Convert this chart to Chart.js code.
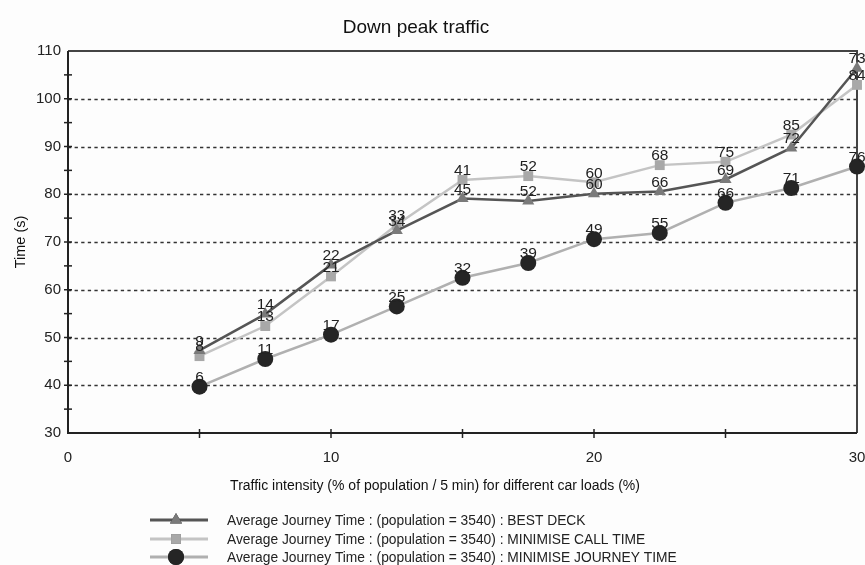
<!DOCTYPE html>
<html>
<head>
<meta charset="utf-8">
<script src="https://cdn.jsdelivr.net/npm/chart.js@4.4.0/dist/chart.umd.min.js"></script>
<style>
html,body{margin:0;padding:0;background:#fdfdfd;}
#wrap{width:865px;height:565px;position:relative;}
</style>
</head>
<body>
<div id="wrap"><canvas id="c" width="865" height="565"></canvas></div>
<script>
// ---- data ----
const xValues = [5, 7.5, 10, 12.5, 15, 17.5, 20, 22.5, 25, 27.5, 30];
const bestDeck = [47.3, 54.9, 65.2, 72.4, 79.1, 78.6, 80.1, 80.6, 83.1, 89.7, 106.4];
const minCallTime = [46.1, 52.4, 62.8, 73.6, 83.0, 83.8, 82.5, 86.1, 86.8, 92.5, 102.9];
const minJourneyTime = [39.7, 45.5, 50.6, 56.5, 62.5, 65.6, 70.6, 71.9, 78.2, 81.3, 85.8];
const bestDeckLabels = ['9','14','22','34','45','52','60','66','69','72','73'];
const callTimeLabels = ['8','13','21','33','41','52','60','68','75','85','84'];
const journeyLabels = ['6','11','17','25','32','39','49','55','66','71','76'];
const seriesNames = [
  'Average Journey Time : (population = 3540) : BEST DECK',
  'Average Journey Time : (population = 3540) : MINIMISE CALL TIME',
  'Average Journey Time : (population = 3540) : MINIMISE JOURNEY TIME'
];
const chartTitle = 'Down peak traffic';
const xTitle = 'Traffic intensity (% of population / 5 min) for different car loads (%)';
const yTitle = 'Time (s)';

const FONT = "'Liberation Sans', Arial, Helvetica, sans-serif";
const toPts = arr => arr.map((v, i) => ({x: xValues[i], y: v}));
const allLabels = [bestDeckLabels, callTimeLabels, journeyLabels];

const decorPlugin = {
  id: 'decor',
  beforeDatasetsDraw(chart) {
    const {ctx, chartArea: a, scales: {x, y}} = chart;
    ctx.save();
    // title and x-axis title
    ctx.fillStyle = '#111';
    ctx.textAlign = 'center';
    ctx.textBaseline = 'middle';
    ctx.font = '19px ' + FONT;
    ctx.fillText(chartTitle, 416, 28);
    ctx.font = '14px ' + FONT;
    ctx.fillText(xTitle, 435, 486);
    // dotted grid lines
    ctx.strokeStyle = '#333';
    ctx.lineWidth = 1.5;
    ctx.setLineDash([3.3, 3.3]);
    for (let v = 40; v <= 100; v += 10) {
      const py = Math.round(y.getPixelForValue(v)) + 0.5;
      ctx.beginPath(); ctx.moveTo(a.left, py); ctx.lineTo(a.right, py); ctx.stroke();
    }
    ctx.setLineDash([]);
    // top and right border
    ctx.strokeStyle = '#444';
    ctx.lineWidth = 2;
    ctx.beginPath();
    ctx.moveTo(a.left, a.top); ctx.lineTo(a.right, a.top); ctx.lineTo(a.right, a.bottom);
    ctx.stroke();
    // axes
    ctx.strokeStyle = '#222';
    ctx.lineWidth = 2;
    ctx.beginPath();
    ctx.moveTo(a.left, a.top); ctx.lineTo(a.left, a.bottom); ctx.lineTo(a.right, a.bottom);
    ctx.stroke();
    // tick marks crossing axes
    ctx.lineWidth = 1.5;
    for (let v = 35; v <= 105; v += 5) {
      const py = y.getPixelForValue(v);
      ctx.beginPath(); ctx.moveTo(a.left - 4, py); ctx.lineTo(a.left + 4, py); ctx.stroke();
    }
    for (let v = 5; v <= 25; v += 5) {
      const px = x.getPixelForValue(v);
      ctx.beginPath(); ctx.moveTo(px, a.bottom - 4); ctx.lineTo(px, a.bottom + 5); ctx.stroke();
    }
    ctx.restore();
  },
  afterDatasetsDraw(chart) {
    const {ctx} = chart;
    ctx.save();
    ctx.font = '15.5px ' + FONT;
    ctx.fillStyle = '#222';
    ctx.textAlign = 'center';
    ctx.textBaseline = 'middle';
    chart.data.datasets.forEach((ds, di) => {
      const meta = chart.getDatasetMeta(di);
      meta.data.forEach((pt, i) => {
        ctx.fillText(allLabels[di][i], pt.x, pt.y - 9);
      });
    });
    // legend
    const rows = [520, 539, 557];
    chart.data.datasets.forEach((ds, di) => {
      const ry = rows[di];
      ctx.strokeStyle = ds.borderColor;
      ctx.lineWidth = 3;
      ctx.beginPath(); ctx.moveTo(150, ry); ctx.lineTo(208, ry); ctx.stroke();
      Chart.helpers.drawPoint(ctx, {
        pointStyle: ds.pointStyle, radius: ds.pointRadius, borderWidth: 0
      }, 176, ry);
      ctx.fillStyle = ds.pointBackgroundColor;
      ctx.fill();
      ctx.fillStyle = '#222';
      ctx.textAlign = 'left';
      ctx.font = '13.8px ' + FONT;
      ctx.fillText(ds.label, 227, ry + 1);
    });
    ctx.restore();
  }
};

new Chart(document.getElementById('c'), {
  type: 'line',
  data: {
    datasets: [
      {label: seriesNames[0], data: toPts(bestDeck), borderColor: '#555', borderWidth: 2.5,
       pointStyle: 'triangle', pointRadius: 7, pointBackgroundColor: '#7a7a7a', pointBorderWidth: 0},
      {label: seriesNames[1], data: toPts(minCallTime), borderColor: '#c4c4c4', borderWidth: 2.5,
       pointStyle: 'rect', pointRadius: 7, pointBackgroundColor: '#a8a8a8', pointBorderWidth: 0},
      {label: seriesNames[2], data: toPts(minJourneyTime), borderColor: '#b0b0b0', borderWidth: 2.5,
       pointStyle: 'circle', pointRadius: 8, pointBackgroundColor: '#252525', pointBorderWidth: 0}
    ]
  },
  options: {
    responsive: false,
    animation: false,
    devicePixelRatio: 1,
    clip: false,
    layout: {padding: {top: 51, right: 7, bottom: 70, left: 0}},
    plugins: {
      legend: {display: false},
      tooltip: {enabled: false},
      title: {display: false}
    },
    scales: {
      x: {
        type: 'linear', min: 0, max: 30,
        ticks: {stepSize: 10, font: {family: FONT, size: 15}, color: '#222', padding: 16, maxRotation: 0},
        grid: {display: false, drawTicks: false},
        border: {display: false},
        title: {display: false},
        afterFit: s => { s.height = 62; s.paddingLeft = 0; s.paddingRight = 0; }
      },
      y: {
        type: 'linear', min: 30, max: 110,
        ticks: {stepSize: 10, font: {family: FONT, size: 15}, color: '#222', padding: 7},
        grid: {display: false, drawTicks: false},
        border: {display: false},
        title: {display: true, text: yTitle, color: '#111', font: {family: FONT, size: 14.5}, padding: {top: 12, bottom: 0}},
        afterFit: s => { s.width = 68; s.paddingTop = 0; s.paddingBottom = 0; }
      }
    }
  },
  plugins: [decorPlugin]
});
</script>
</body>
</html>
